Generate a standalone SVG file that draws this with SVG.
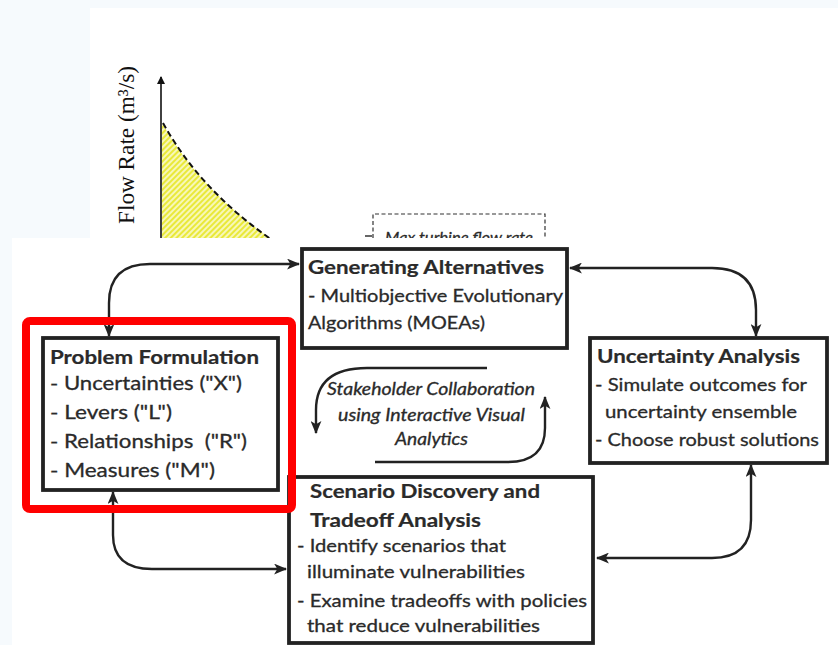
<svg xmlns="http://www.w3.org/2000/svg" width="838" height="645" viewBox="0 0 838 645">
<style>
.box{fill:#fff;stroke:#222;stroke-width:3.8}
.con{fill:none;stroke:#222;stroke-width:2.4}
.t{font-family:Lato,"Open Sans","Liberation Sans",sans-serif;fill:#2a2a2a;stroke:#2a2a2a;stroke-width:0.3}
.b{font-weight:bold;stroke-width:0.2}
.it{font-style:italic}
</style>
<defs>
<marker id="ah" viewBox="0 0 12 10" refX="11" refY="5" markerWidth="13" markerHeight="11" markerUnits="userSpaceOnUse" orient="auto-start-reverse">
<path d="M0,0 L12,5 L0,10 L3,5 z" fill="#222"/>
</marker>
<marker id="axh" viewBox="0 0 8 8" refX="7" refY="4" markerWidth="8" markerHeight="8" markerUnits="userSpaceOnUse" orient="auto">
<path d="M0,0 L8,4 L0,8 z" fill="#111"/>
</marker>
<pattern id="hatch" width="4" height="4" patternUnits="userSpaceOnUse" patternTransform="rotate(45)">
<rect width="4" height="4" fill="#f7f7b8"/>
<rect width="2" height="4" fill="#e9e93a"/>
</pattern>
</defs>
<rect width="838" height="645" fill="#f6fafd"/>
<rect x="90" y="8" width="748" height="232" fill="#fff"/>
<g id="chart">
<path d="M162,123 Q200,190 270,238 L162,238 z" fill="url(#hatch)"/>
<path d="M163,123 Q200,190 272,240" fill="none" stroke="#111" stroke-width="2" stroke-dasharray="6,3.5"/>
<line x1="161" y1="240" x2="161" y2="77" stroke="#111" stroke-width="1.6" marker-end="url(#axh)"/>
<text transform="translate(134,224) rotate(-90)" font-family="'Liberation Serif',serif" font-size="23" fill="#111" textLength="158" lengthAdjust="spacingAndGlyphs">Flow Rate (m³/s)</text>
<path d="M373,238 V214 H545 V238" fill="none" stroke="#333" stroke-width="1.2" stroke-dasharray="4,2.5"/>
<line x1="365" y1="236" x2="372" y2="236" stroke="#333" stroke-width="1.5"/>
<text class="t it" x="385" y="243" font-size="16" textLength="148" lengthAdjust="spacingAndGlyphs">Max turbine flow rate</text>
</g>
<rect x="12" y="238" width="826" height="407" fill="#fff"/>
<g id="connectors">
<path class="con" d="M109,336 V303 Q109,264 150,264 H299" marker-start="url(#ah)" marker-end="url(#ah)"/>
<path class="con" d="M570,268 H712 Q756,268 756,310 V336" marker-start="url(#ah)" marker-end="url(#ah)"/>
<path class="con" d="M751,465 V520 Q751,558 712,558 H597" marker-start="url(#ah)" marker-end="url(#ah)"/>
<path class="con" d="M113,492 V535 Q113,569 152,569 H286" marker-start="url(#ah)" marker-end="url(#ah)"/>
<path class="con" d="M487,368 H367 Q316,368 316,410 V433" marker-end="url(#ah)"/>
<path class="con" d="M375,462 H508 Q545,462 545,428 V397" marker-end="url(#ah)"/>
</g>
<g id="generating">
<rect class="box" x="302" y="249" width="265" height="99"/>
<text class="t b" x="308" y="274" font-size="19" textLength="236" lengthAdjust="spacingAndGlyphs">Generating Alternatives</text>
<text class="t" x="308" y="302" font-size="18" textLength="255" lengthAdjust="spacingAndGlyphs">- Multiobjective Evolutionary</text>
<text class="t" x="308" y="329" font-size="18" textLength="177" lengthAdjust="spacingAndGlyphs">Algorithms (MOEAs)</text>
</g>
<g id="uncertainty">
<rect class="box" x="590" y="338" width="237" height="125"/>
<text class="t b" x="597" y="363" font-size="18.5" textLength="203" lengthAdjust="spacingAndGlyphs">Uncertainty Analysis</text>
<text class="t" x="595" y="391" font-size="18" textLength="212" lengthAdjust="spacingAndGlyphs">- Simulate outcomes for</text>
<text class="t" x="605" y="418" font-size="18" textLength="192" lengthAdjust="spacingAndGlyphs">uncertainty ensemble</text>
<text class="t" x="595" y="446" font-size="18" textLength="224" lengthAdjust="spacingAndGlyphs">- Choose robust solutions</text>
</g>
<g id="problem">
<rect class="box" x="43" y="338" width="235" height="152"/>
<text class="t b" x="50" y="364" font-size="19" textLength="209" lengthAdjust="spacingAndGlyphs">Problem Formulation</text>
<text class="t" x="50" y="390" font-size="19.5" textLength="192" lengthAdjust="spacingAndGlyphs">- Uncertainties ("X")</text>
<text class="t" x="50" y="419" font-size="19.5" textLength="122" lengthAdjust="spacingAndGlyphs">- Levers ("L")</text>
<text class="t" x="50" y="448" font-size="19.5" textLength="197" lengthAdjust="spacingAndGlyphs" xml:space="preserve">- Relationships  ("R")</text>
<text class="t" x="50" y="477" font-size="19.5" textLength="165" lengthAdjust="spacingAndGlyphs">- Measures ("M")</text>
</g>
<g id="scenario">
<rect class="box" x="289" y="477" width="304" height="166"/>
<text class="t b" x="310" y="498" font-size="18.5" textLength="230" lengthAdjust="spacingAndGlyphs">Scenario Discovery and</text>
<text class="t b" x="310" y="527" font-size="18.5" textLength="171" lengthAdjust="spacingAndGlyphs">Tradeoff Analysis</text>
<text class="t" x="297" y="552" font-size="18" textLength="209" lengthAdjust="spacingAndGlyphs">- Identify scenarios that</text>
<text class="t" x="307" y="578" font-size="18" textLength="218" lengthAdjust="spacingAndGlyphs">illuminate vulnerabilities</text>
<text class="t" x="297" y="607" font-size="18" textLength="290" lengthAdjust="spacingAndGlyphs">- Examine tradeoffs with policies</text>
<text class="t" x="307" y="632" font-size="18" textLength="233" lengthAdjust="spacingAndGlyphs">that reduce vulnerabilities</text>
</g>
<g id="stakeholder">
<text class="t it" x="327" y="395" font-size="16.5" textLength="208" lengthAdjust="spacingAndGlyphs">Stakeholder Collaboration</text>
<text class="t it" x="338" y="421" font-size="16.5" textLength="187" lengthAdjust="spacingAndGlyphs">using Interactive Visual</text>
<text class="t it" x="395" y="445" font-size="16.5" textLength="73" lengthAdjust="spacingAndGlyphs">Analytics</text>
</g>
<g id="highlight">
<rect x="26" y="321" width="266" height="188" rx="4" fill="none" stroke="#ff0000" stroke-width="8"/>
</g>
</svg>
